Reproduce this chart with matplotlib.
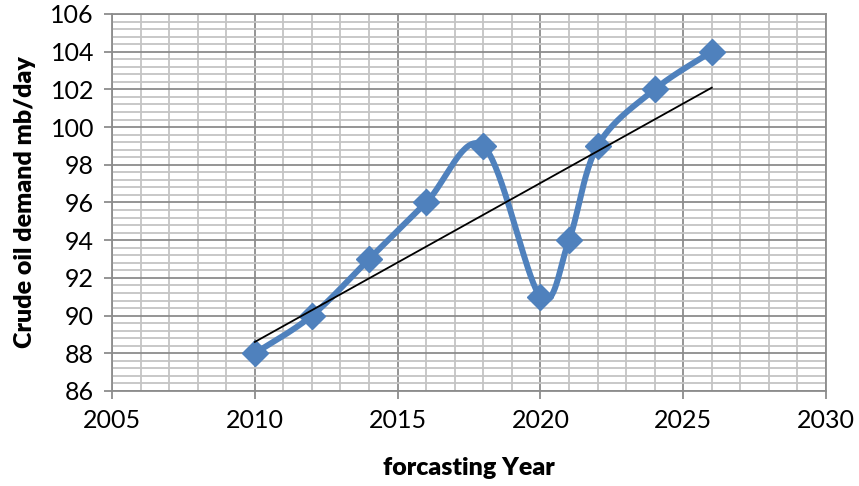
import numpy as np
import matplotlib.pyplot as plt
from matplotlib.ticker import MultipleLocator

years = [2010, 2012, 2014, 2016, 2018, 2020, 2021, 2022, 2024, 2026]
demand = [88, 90, 93, 96, 99, 91, 94, 99, 102, 104]

x_lim = (2005, 2030)
y_lim = (86, 106)


def smooth_curve(x, y, sx, sy, n=40):
    # bezier smoothing (catmull-rom style) done in scaled units
    px = (np.asarray(x, float) - x_lim[0]) * sx
    py = (np.asarray(y, float) - y_lim[0]) * sy
    P = np.column_stack([px, py])
    out = [P[0]]
    t = np.linspace(0, 1, n)[1:, None]
    for i in range(len(P) - 1):
        p0 = P[max(i - 1, 0)]
        p1 = P[i]
        p2 = P[i + 1]
        p3 = P[min(i + 2, len(P) - 1)]
        c1 = p1 + (p2 - p0) / 6.0
        c2 = p2 - (p3 - p1) / 6.0
        seg = ((1 - t) ** 3) * p1 + 3 * ((1 - t) ** 2) * t * c1 + 3 * (1 - t) * t ** 2 * c2 + t ** 3 * p2
        out.extend(seg)
    out = np.array(out)
    return out[:, 0] / sx + x_lim[0], out[:, 1] / sy + y_lim[0]


fig = plt.figure(figsize=(8.59, 4.86), dpi=100)
ax = fig.add_axes([0.1304, 0.1955, 0.8312, 0.7757])

fam = ['Lato', 'DejaVu Sans']

# pixel scale of the axes for smoothing
sx = 714.0 / (x_lim[1] - x_lim[0])
sy = 377.0 / (y_lim[1] - y_lim[0])
cx, cy = smooth_curve(years, demand, sx, sy)

ax.plot(cx, cy, color='#4F81BD', lw=4.3, solid_capstyle='round', zorder=3)
ax.plot(years, demand, 'D', color='#4F81BD', ms=13, zorder=4)

# linear trend line
k, b = np.polyfit(years, demand, 1)
tx = np.array([years[0], years[-1]])
ax.plot(tx, k * tx + b, color='black', lw=1.3, zorder=5)

ax.set_xlim(*x_lim)
ax.set_ylim(*y_lim)
ax.xaxis.set_major_locator(MultipleLocator(5))
ax.xaxis.set_minor_locator(MultipleLocator(1))
ax.yaxis.set_major_locator(MultipleLocator(2))
ax.yaxis.set_minor_locator(MultipleLocator(0.4))

ax.grid(which='minor', color='#C4C4C4', lw=1.3, zorder=0)
ax.grid(which='major', color='#8C8C8C', lw=1.3, zorder=1)
ax.set_axisbelow(True)
for s in ax.spines.values():
    s.set_color('#8C8C8C')
    s.set_linewidth(1.3)

ax.tick_params(which='major', length=6, width=1.3, color='#8C8C8C', labelsize=18, pad=7)
ax.tick_params(which='minor', length=0)
for lab in ax.get_xticklabels() + ax.get_yticklabels():
    lab.set_family(fam)

ax.set_xlabel('forcasting Year', fontsize=18, fontweight='heavy', labelpad=18, family=fam)
ax.set_ylabel('Crude oil demand mb/day', fontsize=18, fontweight='heavy', labelpad=10, family=fam)

fig.savefig('out.png', dpi=100)
